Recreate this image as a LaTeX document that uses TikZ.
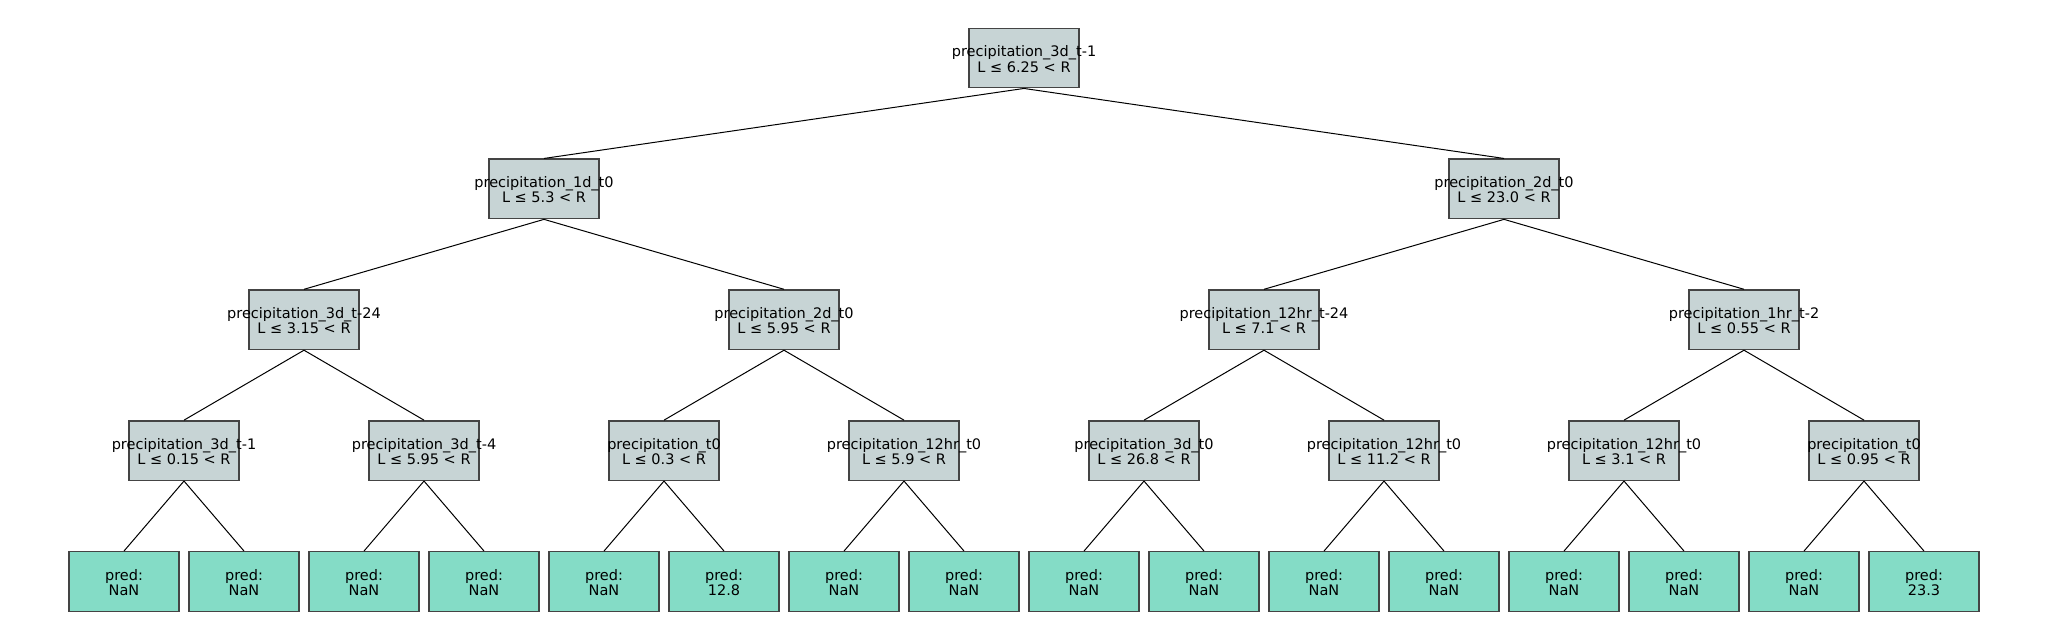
\documentclass[tikz,border=0pt]{standalone}
\usepackage{fontspec}
\setmainfont{DejaVu Sans}
\definecolor{splitfill}{HTML}{C7D4D5}
\definecolor{leaffill}{HTML}{84DCC6}
\definecolor{boxedge}{HTML}{444444}
\newcommand\splitnode[5]{\node[splitbox] (#1) at (#2,#3) {}; \node[lbl] (#1t) at (#1) {#4\\#5};}
\newcommand\leafnode[4]{\node[leafbox] (#1) at (#2,#3) {}; \node[lbl] (#1t) at (#1) {pred:\\#4};}
\begin{document}
\begin{tikzpicture}[x=1pt,y=-1pt,
 splitbox/.style={draw=boxedge, line width=1.4pt, fill=splitfill, minimum width=110pt, minimum height=59.5pt, inner sep=0pt},
 leafbox/.style={draw=boxedge, line width=1.4pt, fill=leaffill, minimum width=110pt, minimum height=59.5pt, inner sep=0pt},
 lbl/.style={align=center, inner sep=0pt, font=\fontsize{14.5}{15.3}\selectfont, yshift=-1pt},
 edge/.style={draw=black, line width=1pt}]
\useasboundingbox[fill=white] (0,0) rectangle (2048,640);
% level 0
\splitnode{r}{1024}{58}{precipitation\_3d\_t-1}{L ≤ 6.25 < R}
% level 1
\splitnode{a}{544}{188.9}{precipitation\_1d\_t0}{L ≤ 5.3 < R}
\splitnode{b}{1504}{188.9}{precipitation\_2d\_t0}{L ≤ 23.0 < R}
% level 2
\splitnode{aa}{304}{319.75}{precipitation\_3d\_t-24}{L ≤ 3.15 < R}
\splitnode{ab}{784}{319.75}{precipitation\_2d\_t0}{L ≤ 5.95 < R}
\splitnode{ba}{1264}{319.75}{precipitation\_12hr\_t-24}{L ≤ 7.1 < R}
\splitnode{bb}{1744}{319.75}{precipitation\_1hr\_t-2}{L ≤ 0.55 < R}
% level 3
\splitnode{aaa}{184}{450.6}{precipitation\_3d\_t-1}{L ≤ 0.15 < R}
\splitnode{aab}{424}{450.6}{precipitation\_3d\_t-4}{L ≤ 5.95 < R}
\splitnode{aba}{664}{450.6}{precipitation\_t0}{L ≤ 0.3 < R}
\splitnode{abb}{904}{450.6}{precipitation\_12hr\_t0}{L ≤ 5.9 < R}
\splitnode{baa}{1144}{450.6}{precipitation\_3d\_t0}{L ≤ 26.8 < R}
\splitnode{bab}{1384}{450.6}{precipitation\_12hr\_t0}{L ≤ 11.2 < R}
\splitnode{bba}{1624}{450.6}{precipitation\_12hr\_t0}{L ≤ 3.1 < R}
\splitnode{bbb}{1864}{450.6}{precipitation\_t0}{L ≤ 0.95 < R}
% leaves
\leafnode{l1}{124}{581.5}{NaN}
\leafnode{l2}{244}{581.5}{NaN}
\leafnode{l3}{364}{581.5}{NaN}
\leafnode{l4}{484}{581.5}{NaN}
\leafnode{l5}{604}{581.5}{NaN}
\leafnode{l6}{724}{581.5}{12.8}
\leafnode{l7}{844}{581.5}{NaN}
\leafnode{l8}{964}{581.5}{NaN}
\leafnode{l9}{1084}{581.5}{NaN}
\leafnode{l10}{1204}{581.5}{NaN}
\leafnode{l11}{1324}{581.5}{NaN}
\leafnode{l12}{1444}{581.5}{NaN}
\leafnode{l13}{1564}{581.5}{NaN}
\leafnode{l14}{1684}{581.5}{NaN}
\leafnode{l15}{1804}{581.5}{NaN}
\leafnode{l16}{1924}{581.5}{23.3}
% connectors
\foreach \p/\c in {r/a, r/b, a/aa, a/ab, b/ba, b/bb,
  aa/aaa, aa/aab, ab/aba, ab/abb, ba/baa, ba/bab, bb/bba, bb/bbb,
  aaa/l1, aaa/l2, aab/l3, aab/l4, aba/l5, aba/l6, abb/l7, abb/l8,
  baa/l9, baa/l10, bab/l11, bab/l12, bba/l13, bba/l14, bbb/l15, bbb/l16}
  \draw[edge] (\p.south) -- (\c.north);
\end{tikzpicture}
\end{document}
